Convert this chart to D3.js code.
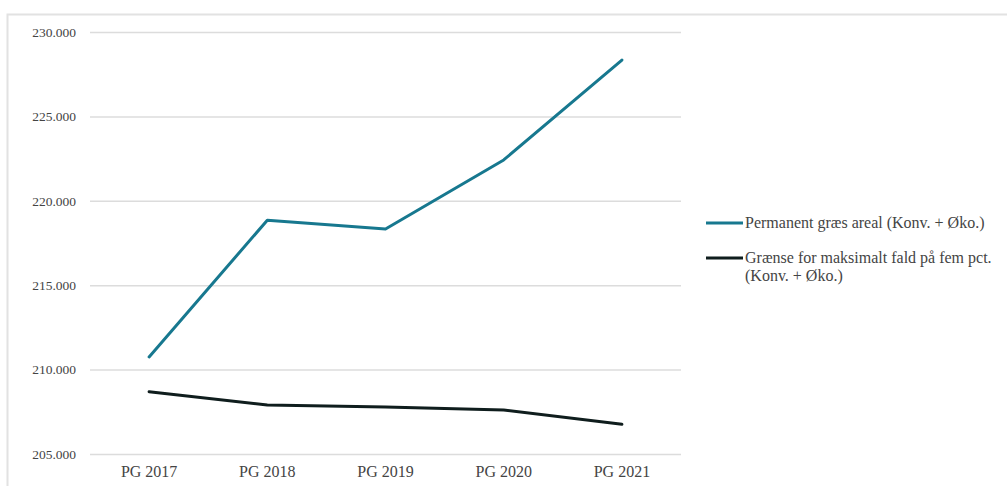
<!DOCTYPE html>
<html>
<head>
<meta charset="utf-8">
<script src="https://cdn.jsdelivr.net/npm/d3@7"></script>
<style>
  html, body { margin: 0; padding: 0; background: #fff; }
  svg { display: block; }
  text { font-family: "Liberation Serif", "DejaVu Serif", serif; fill: #444; }
</style>
</head>
<body>
<svg id="chart" width="1007" height="486"></svg>
<script>
// Categories (years) and series values (hectares)
const years = ["PG 2017", "PG 2018", "PG 2019", "PG 2020", "PG 2021"];
const permanentGraes = [210750, 218850, 218330, 222420, 228340];
const graenseFald = [208690, 207900, 207780, 207610, 206760];
const yTicks = [205000, 210000, 215000, 220000, 225000, 230000];
const seriesNames = ["Permanent græs areal (Konv. + Øko.)", "Grænse for maksimalt fald på fem pct. (Konv. + Øko.)"];
const seriesColors = ["#17788f", "#0f1d1d"];

const svg = d3.select("#chart");

// Outer frame (top and left edges)
svg.append("path")
  .attr("d", "M7.5,486 L7.5,14.5 L1007,14.5")
  .attr("fill", "none")
  .attr("stroke", "#e2e2e2")
  .attr("stroke-width", 2);

const x = d3.scaleBand().domain(years).range([90, 681]);
const y = d3.scaleLinear().domain([205000, 230000]).range([454, 32]);

const fmt = v => d3.format(",")(v).replace(/,/g, ".");

// Gridlines
svg.append("g").selectAll("line").data(yTicks).join("line")
  .attr("x1", 90).attr("x2", 681)
  .attr("y1", d => y(d) + 0.5).attr("y2", d => y(d) + 0.5)
  .attr("stroke", "#dcdcdc").attr("stroke-width", 1.5);

// Y axis labels
const yAxis = svg.append("g")
  .attr("transform", "translate(76,0)")
  .call(d3.axisLeft(y).tickValues(yTicks).tickSize(0).tickPadding(0).tickFormat(fmt));
yAxis.select(".domain").remove();
yAxis.selectAll("text")
  .attr("font-size", 13.5)
  .attr("font-family", "'DejaVu Serif', serif")
  .attr("fill", "#404040");

// X axis labels
const xAxis = svg.append("g")
  .attr("transform", "translate(0,466)")
  .call(d3.axisBottom(x).tickSize(0).tickPadding(0));
xAxis.select(".domain").remove();
xAxis.selectAll("text")
  .attr("font-size", 16)
  .attr("fill", "#404040");

// Series lines
const line = d3.line()
  .x((d, i) => x(years[i]) + x.bandwidth() / 2)
  .y(d => y(d));

[permanentGraes, graenseFald].forEach((vals, i) => {
  svg.append("path")
    .datum(vals)
    .attr("fill", "none")
    .attr("stroke", seriesColors[i])
    .attr("stroke-width", 3)
    .attr("stroke-linejoin", "round")
    .attr("stroke-linecap", "round")
    .attr("d", line);
});

// Legend
const legend = svg.append("g").attr("transform", "translate(706,0)");
const legendRows = [
  { y: 223, lines: [seriesNames[0]] },
  { y: 258, lines: ["Grænse for maksimalt fald på fem pct.", "(Konv. + Øko.)"] }
];
legendRows.forEach((r, i) => {
  legend.append("line")
    .attr("x1", 0).attr("x2", 37)
    .attr("y1", r.y).attr("y2", r.y)
    .attr("stroke", seriesColors[i]).attr("stroke-width", 3);
  const t = legend.append("text")
    .attr("x", 39).attr("y", r.y + 5)
    .attr("font-size", 16)
    .attr("fill", "#333");
  r.lines.forEach((s, k) => {
    t.append("tspan").attr("x", 39).attr("dy", k === 0 ? 0 : 18).text(s);
  });
});
</script>
</body>
</html>
